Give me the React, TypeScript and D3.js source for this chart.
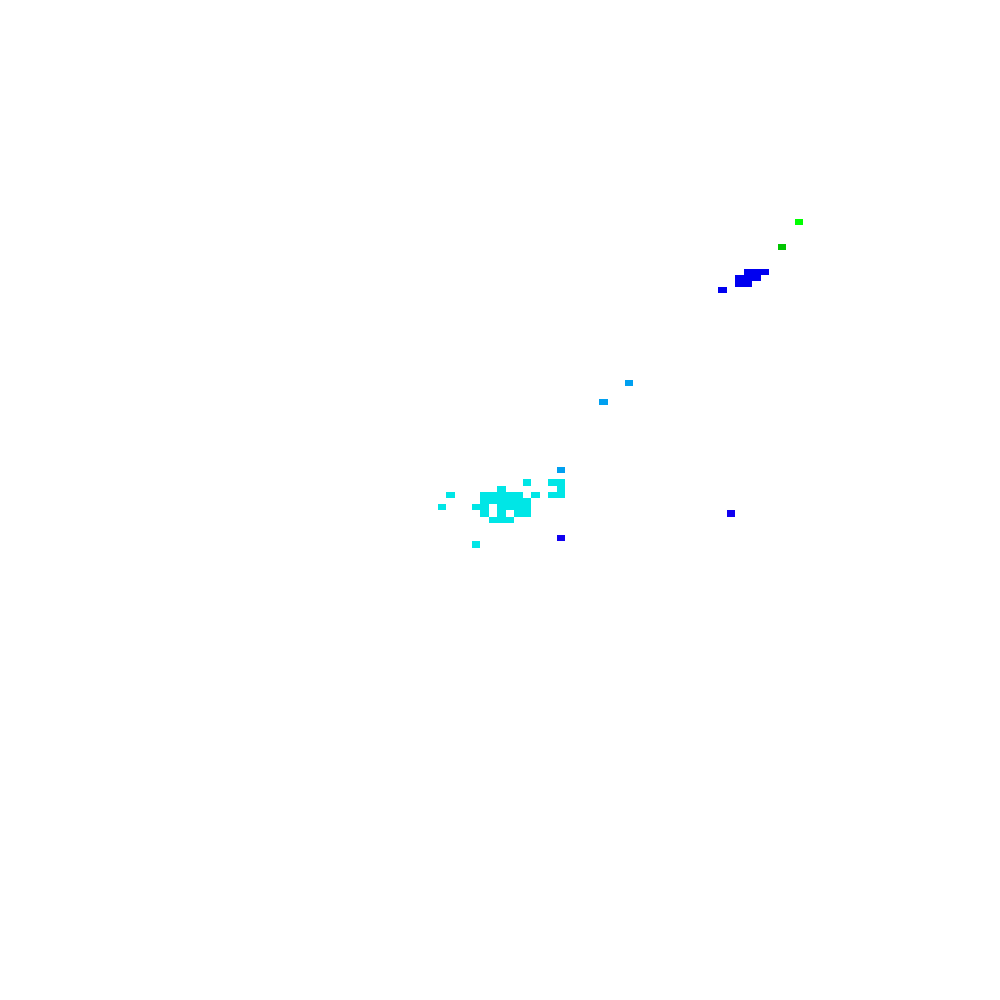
import * as d3 from 'd3';

// Grid cells as [column, row] on a regular lattice
const nCols = 48;
const nRows = 53;

const deepBlueCells: [number, number][] = [
  [34, 47],
  [14, 51],
];

const blueCells: [number, number][] = [
  [36, 8], [37, 8], [38, 8],
  [35, 9], [36, 9], [37, 9],
  [35, 10], [36, 10],
  [33, 11],
];

const lightBlueCells: [number, number][] = [
  [22, 26],
  [19, 29],
  [14, 40],
];

const cyanCells: [number, number][] = [
  [10, 42], [13, 42], [14, 42],
  [7, 43], [14, 43],
  [1, 44], [5, 44], [6, 44], [7, 44], [8, 44], [9, 44], [11, 44], [13, 44], [14, 44],
  [5, 45], [6, 45], [7, 45], [8, 45], [9, 45], [10, 45],
  [0, 46], [4, 46], [5, 46], [7, 46], [8, 46], [9, 46], [10, 46],
  [5, 47], [7, 47], [9, 47], [10, 47],
  [6, 48], [7, 48], [8, 48],
  [4, 52],
];

const greenCells: [number, number][] = [[40, 4]];
const brightGreenCells: [number, number][] = [[42, 0]];

// value of each group on the colour scale
const groupValues = [0.18, 0.2, 0.28, 0.33, 0.5, 0.6];
const groupColors = ['#1000f0', '#0000f0', '#00a0f0', '#00e6e6', '#00c400', '#00ff00'];
const groups = [deepBlueCells, blueCells, lightBlueCells, cyanCells, greenCells, brightGreenCells];

const width = 1000;
const height = 1000;

export default function App() {
  const cells = groups.flatMap((g, i) =>
    g.map(([col, row]) => ({ col, row, value: groupValues[i] }))
  );

  const x = d3
    .scaleBand<number>()
    .domain(d3.range(nCols))
    .range([437.5, 437.5 + nCols * 8.5])
    .padding(0);

  const y = d3
    .scaleBand<number>()
    .domain(d3.range(nRows))
    .range([219, 219 + nRows * 6.2])
    .padding(0);

  const color = d3.scaleLinear<string>().domain(groupValues).range(groupColors);

  return (
    <svg
      width={width}
      height={height}
      style={{ position: 'absolute', left: 0, top: 0, background: '#fff' }}
    >
      <g shapeRendering="crispEdges">
        {cells.map((d, i) => (
          <rect
            key={i}
            x={x(d.col)}
            y={y(d.row)}
            width={x.bandwidth()}
            height={y.bandwidth()}
            fill={color(d.value)}
          />
        ))}
      </g>
    </svg>
  );
}
